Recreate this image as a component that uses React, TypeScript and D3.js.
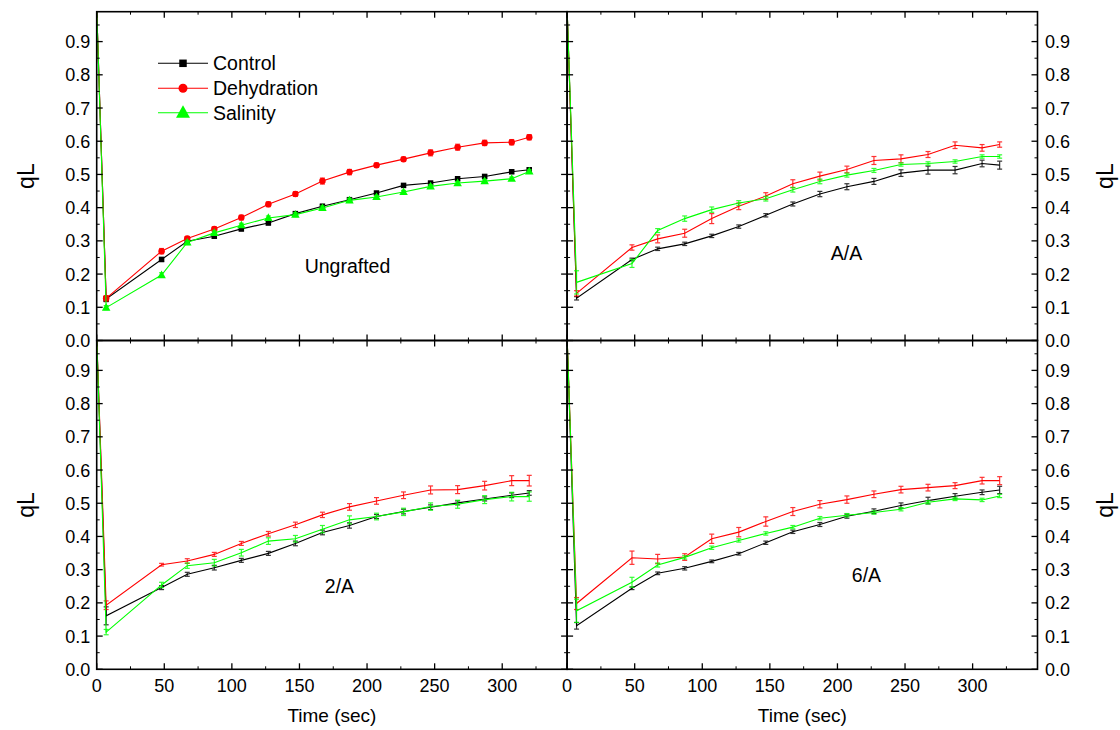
import React from "react";
import * as d3 from "d3";

const timeSec = [0, 7, 48, 67, 87, 107, 127, 147, 167, 187, 207, 227, 247, 267, 287, 307, 320];
const seriesNames = ["Control", "Dehydration", "Salinity"];
const seriesColors = ["#000000", "#ff0000", "#00ff00"];
const panelLabels = ["Ungrafted", "A/A", "2/A", "6/A"];
const yTickLabels = ["0.0", "0.1", "0.2", "0.3", "0.4", "0.5", "0.6", "0.7", "0.8", "0.9"];
const xTickLabels = ["0", "50", "100", "150", "200", "250", "300"];

// Ungrafted
const ungControl = [1.0, 0.125, 0.244, 0.299, 0.314, 0.336, 0.354, 0.382, 0.404, 0.424, 0.444, 0.467, 0.474, 0.487, 0.494, 0.508, 0.514];
const ungControlErr = [0, 0.008, 0.006, 0.005, 0.006, 0.006, 0.006, 0.006, 0.006, 0.005, 0.005, 0.005, 0.005, 0.005, 0.005, 0.005, 0.005];
const ungDehyd = [1.0, 0.127, 0.269, 0.307, 0.336, 0.37, 0.41, 0.441, 0.48, 0.507, 0.528, 0.546, 0.565, 0.582, 0.595, 0.597, 0.612];
const ungDehydErr = [0, 0.008, 0.008, 0.006, 0.006, 0.007, 0.007, 0.007, 0.009, 0.008, 0.006, 0.006, 0.009, 0.009, 0.008, 0.008, 0.008];
const ungSal = [1.0, 0.099, 0.197, 0.295, 0.324, 0.347, 0.369, 0.379, 0.399, 0.422, 0.432, 0.447, 0.464, 0.474, 0.48, 0.487, 0.509];
const ungSalErr = [0, 0.006, 0.007, 0.006, 0.006, 0.006, 0.006, 0.006, 0.006, 0.006, 0.005, 0.005, 0.005, 0.005, 0.005, 0.005, 0.005];

// A/A
const aaControl = [1.0, 0.127, 0.244, 0.276, 0.291, 0.315, 0.343, 0.377, 0.411, 0.441, 0.463, 0.479, 0.504, 0.513, 0.513, 0.533, 0.528];
const aaControlErr = [0, 0.005, 0.004, 0.005, 0.005, 0.005, 0.005, 0.005, 0.006, 0.008, 0.009, 0.009, 0.01, 0.012, 0.011, 0.01, 0.012];
const aaDehyd = [1.0, 0.142, 0.28, 0.306, 0.323, 0.367, 0.404, 0.435, 0.472, 0.495, 0.515, 0.542, 0.547, 0.56, 0.588, 0.58, 0.59];
const aaDehydErr = [0, 0.008, 0.008, 0.012, 0.012, 0.015, 0.01, 0.01, 0.012, 0.012, 0.01, 0.012, 0.012, 0.009, 0.01, 0.01, 0.008];
const aaSal = [1.0, 0.175, 0.232, 0.331, 0.367, 0.394, 0.414, 0.427, 0.454, 0.479, 0.498, 0.512, 0.53, 0.533, 0.539, 0.554, 0.554];
const aaSalErr = [0, 0.035, 0.012, 0.006, 0.008, 0.008, 0.007, 0.007, 0.007, 0.007, 0.006, 0.006, 0.005, 0.005, 0.005, 0.005, 0.005];

// 2/A
const twoControl = [1.0, 0.161, 0.246, 0.286, 0.306, 0.328, 0.349, 0.379, 0.412, 0.433, 0.46, 0.475, 0.488, 0.501, 0.513, 0.524, 0.531];
const twoControlErr = [0, 0.027, 0.006, 0.006, 0.007, 0.006, 0.006, 0.007, 0.007, 0.008, 0.006, 0.007, 0.007, 0.006, 0.006, 0.007, 0.007];
const twoDehyd = [1.0, 0.193, 0.315, 0.326, 0.346, 0.379, 0.408, 0.435, 0.465, 0.489, 0.507, 0.524, 0.54, 0.541, 0.553, 0.568, 0.568];
const twoDehydErr = [0, 0.013, 0.004, 0.007, 0.006, 0.006, 0.007, 0.008, 0.008, 0.01, 0.01, 0.01, 0.012, 0.012, 0.013, 0.015, 0.016];
const twoSal = [1.0, 0.112, 0.254, 0.312, 0.321, 0.351, 0.386, 0.393, 0.422, 0.45, 0.46, 0.474, 0.49, 0.497, 0.511, 0.52, 0.52];
const twoSalErr = [0, 0.008, 0.008, 0.008, 0.01, 0.01, 0.01, 0.01, 0.011, 0.012, 0.01, 0.011, 0.011, 0.012, 0.012, 0.013, 0.014];

// 6/A
const sixControl = [1.0, 0.131, 0.244, 0.289, 0.304, 0.325, 0.348, 0.381, 0.414, 0.436, 0.461, 0.476, 0.493, 0.508, 0.521, 0.533, 0.54];
const sixControlErr = [0, 0.01, 0.004, 0.004, 0.005, 0.004, 0.004, 0.005, 0.005, 0.006, 0.006, 0.007, 0.008, 0.01, 0.008, 0.007, 0.011];
const sixDehyd = [1.0, 0.198, 0.336, 0.332, 0.338, 0.393, 0.413, 0.445, 0.475, 0.497, 0.511, 0.527, 0.541, 0.547, 0.553, 0.568, 0.568];
const sixDehydErr = [0, 0.018, 0.02, 0.014, 0.01, 0.014, 0.014, 0.014, 0.012, 0.011, 0.011, 0.01, 0.01, 0.01, 0.009, 0.01, 0.012];
const sixSal = [1.0, 0.176, 0.262, 0.314, 0.337, 0.366, 0.388, 0.409, 0.428, 0.455, 0.464, 0.472, 0.482, 0.503, 0.513, 0.51, 0.522];
const sixSalErr = [0, 0.035, 0.015, 0.006, 0.005, 0.005, 0.005, 0.005, 0.005, 0.005, 0.005, 0.005, 0.005, 0.005, 0.005, 0.005, 0.005];

const panelValues = [
  [ungControl, ungDehyd, ungSal],
  [aaControl, aaDehyd, aaSal],
  [twoControl, twoDehyd, twoSal],
  [sixControl, sixDehyd, sixSal],
];
const panelErrors = [
  [ungControlErr, ungDehydErr, ungSalErr],
  [aaControlErr, aaDehydErr, aaSalErr],
  [twoControlErr, twoDehydErr, twoSalErr],
  [sixControlErr, sixDehydErr, sixSalErr],
];

const FONT = "'Liberation Sans', Arial, Helvetica, sans-serif";
const PW = 470.4;
const PH = 328.8;
const panelPos = [
  { x: 96.7, y: 11.7, left: true, bottom: false, label: [347.5, 273] },
  { x: 567.1, y: 11.7, left: false, bottom: false, label: [846.5, 260] },
  { x: 96.7, y: 340.5, left: true, bottom: true, label: [339.5, 593] },
  { x: 567.1, y: 340.5, left: false, bottom: true, label: [866.5, 582] },
];

function Marker({ kind, cx, cy, size, color }) {
  if (kind === 0) {
    return <rect x={cx - size / 2} y={cy - size / 2} width={size} height={size} fill={color} />;
  }
  if (kind === 1) {
    return <circle cx={cx} cy={cy} r={size / 2} fill={color} />;
  }
  const h = size * 0.9;
  return (
    <path
      d={`M${cx},${cy - h * 0.6} L${cx + size / 2},${cy + h * 0.4} L${cx - size / 2},${cy + h * 0.4} Z`}
      fill={color}
    />
  );
}

function Panel({ idx }) {
  const p = panelPos[idx];
  const x = d3.scaleLinear().domain([0, 348]).range([p.x, p.x + PW]);
  const y = d3.scaleLinear().domain([0, 0.99]).range([p.y + PH, p.y]);
  const majorX = d3.range(0, 301, 50);
  const minorX = d3.range(25, 348, 50);
  const majorY = d3.range(0, 10).map((i) => i / 10);
  const minorY = d3.range(0, 10).map((i) => i / 10 + 0.05);
  const line = d3
    .line<number>()
    .x((_, i) => x(timeSec[i]))
    .y((v) => y(v));
  const clipId = `clip${idx}`;
  const withMarkers = idx === 0;
  const xl = p.x;
  const xr = p.x + PW;
  const yt = p.y;
  const yb = p.y + PH;
  return (
    <g>
      <defs>
        <clipPath id={clipId}>
          <rect x={p.x} y={p.y} width={PW} height={PH} />
        </clipPath>
      </defs>
      <g clipPath={`url(#${clipId})`}>
        {panelValues[idx].map((vals, s) => (
          <g key={s}>
            <path d={line(vals) || ""} fill="none" stroke={seriesColors[s]} strokeWidth={1.1} />
            {vals.map((v, i) => {
              const e = panelErrors[idx][s][i];
              if (!e) return null;
              const cx = x(timeSec[i]);
              return (
                <g key={i} stroke={seriesColors[s]} strokeWidth={1.2} opacity={0.8}>
                  <line x1={cx} x2={cx} y1={y(v - e)} y2={y(v + e)} />
                  <line x1={cx - 2.5} x2={cx + 2.5} y1={y(v - e)} y2={y(v - e)} />
                  <line x1={cx - 2.5} x2={cx + 2.5} y1={y(v + e)} y2={y(v + e)} />
                </g>
              );
            })}
            {withMarkers &&
              vals.map((v, i) =>
                i === 0 ? null : (
                  <Marker key={i} kind={s} cx={x(timeSec[i])} cy={y(v)} size={s === 0 ? 5.5 : s === 1 ? 6.5 : 8.5} color={seriesColors[s]} />
                )
              )}
          </g>
        ))}
      </g>
      {/* frame */}
      <rect x={p.x} y={p.y} width={PW} height={PH} fill="none" stroke="#000" strokeWidth={1.6} />
      {/* y ticks both sides inward */}
      {majorY.map((t) => (
        <g key={`my${t}`} stroke="#000" strokeWidth={1.3}>
          <line x1={xl} x2={xl + 6} y1={y(t)} y2={y(t)} />
          <line x1={xr} x2={xr - 6} y1={y(t)} y2={y(t)} />
        </g>
      ))}
      {minorY.map((t) => (
        <g key={`mny${t}`} stroke="#000" strokeWidth={1}>
          <line x1={xl} x2={xl + 3} y1={y(t)} y2={y(t)} />
          <line x1={xr} x2={xr - 3} y1={y(t)} y2={y(t)} />
        </g>
      ))}
      {majorX.map((t) => (
        <g key={`mx${t}`} stroke="#000" strokeWidth={1.3}>
          <line x1={x(t)} x2={x(t)} y1={yb} y2={yb - 6} />
          <line x1={x(t)} x2={x(t)} y1={yt} y2={yt + 6} />
        </g>
      ))}
      {minorX.map((t) => (
        <g key={`mnx${t}`} stroke="#000" strokeWidth={1}>
          <line x1={x(t)} x2={x(t)} y1={yb} y2={yb - 3} />
          <line x1={x(t)} x2={x(t)} y1={yt} y2={yt + 3} />
        </g>
      ))}
      {/* y tick labels */}
      {majorY.map((t, i) => (
        <text
          key={`yl${t}`}
          x={p.left ? xl - 6.5 : xr + 7.5}
          y={y(t) + 6.5}
          textAnchor={p.left ? "end" : "start"}
          fontSize={18}
          fontFamily={FONT}
          fill="#000"
        >
          {yTickLabels[i]}
        </text>
      ))}
      {p.bottom &&
        majorX.map((t, i) => (
          <text key={`xl${t}`} x={x(t)} y={yb + 22.5} textAnchor="middle" fontSize={18} fontFamily={FONT} fill="#000">
            {xTickLabels[i]}
          </text>
        ))}
      {p.bottom && (
        <text x={(xl + xr) / 2} y={722} textAnchor="middle" fontSize={19} fontFamily={FONT} fill="#000">
          Time (sec)
        </text>
      )}
      <text
        transform={`translate(${p.left ? 34 : 1113},${(yt + yb) / 2}) rotate(-90)`}
        textAnchor="middle"
        fontSize={23}
        fontFamily={FONT}
        fill="#000"
      >
        qL
      </text>
      <text x={p.label[0]} y={p.label[1]} textAnchor="middle" fontSize={19.5} fontFamily={FONT} fill="#000">
        {panelLabels[idx]}
      </text>
    </g>
  );
}

function Legend() {
  const rows = [63.3, 88.3, 112.7];
  const legSizes = [7.5, 9, 14];
  return (
    <g>
      {seriesNames.map((n, s) => (
        <g key={n}>
          <line x1={158} x2={208} y1={rows[s]} y2={rows[s]} stroke={seriesColors[s]} strokeWidth={1.1} />
          <Marker kind={s} cx={183} cy={rows[s]} size={legSizes[s]} color={seriesColors[s]} />
          <text x={213} y={rows[s] + 7} fontSize={19.5} fontFamily={FONT} fill="#000">
            {n}
          </text>
        </g>
      ))}
    </g>
  );
}

export default function App() {
  return (
    <svg width={1120} height={730} style={{ position: "absolute", left: 0, top: 0, background: "#fff" }}>
      <rect x={0} y={0} width={1120} height={730} fill="#fff" />
      {[0, 1, 2, 3].map((i) => (
        <Panel key={i} idx={i} />
      ))}
      <Legend />
    </svg>
  );
}
